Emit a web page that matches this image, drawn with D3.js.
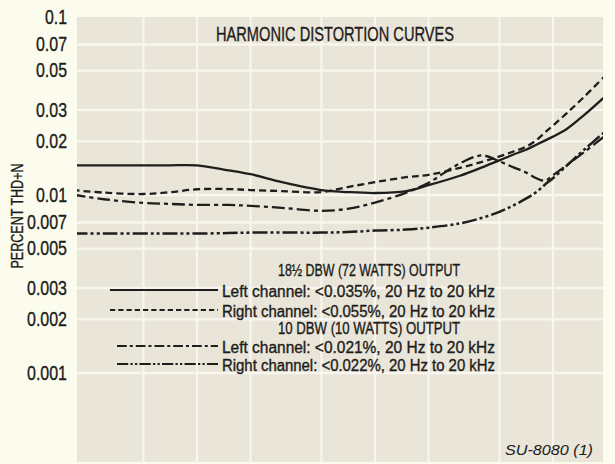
<!DOCTYPE html>
<html>
<head>
<meta charset="utf-8">
<script src="https://cdn.jsdelivr.net/npm/d3@7/dist/d3.min.js"></script>
<style>
  html, body { margin: 0; padding: 0; background: #fbfbee; }
  svg { display: block; }
  .narrow { font-family: "Liberation Sans", Arial, sans-serif; fill: #1c1c1a; stroke: #1c1c1a; stroke-width: 0.35px; }
</style>
</head>
<body>
<svg id="chart" width="615" height="464"></svg>
<script>
// Frequency points (Hz) shared by every curve
const freqHz = [20, 30, 50, 70, 100, 150, 200, 300, 500, 700, 1000, 1500, 2000,
                3000, 4000, 5000, 6000, 7000, 8000, 9000, 10000, 12000, 15000, 20000];

// THD+N in percent, 18½ dBW (72 W) output
const left72W = [0.01468, 0.01468, 0.01468, 0.01468, 0.01468, 0.01377, 0.01308, 0.01181,
                 0.01066, 0.01039, 0.01026, 0.01052, 0.01136, 0.01283, 0.01430, 0.01565,
                 0.01689, 0.01790, 0.01909, 0.02021, 0.02128, 0.02357, 0.02818, 0.03639];
const right72W = [0.01066, 0.01031, 0.01013, 0.01036, 0.01077, 0.01080, 0.01066, 0.01052,
                  0.01039, 0.01108, 0.01181, 0.01259, 0.01298, 0.01421, 0.01537, 0.01647,
                  0.01756, 0.01859, 0.02021, 0.02242, 0.02458, 0.02891, 0.03572, 0.04760];

// THD+N in percent, 10 dBW (10 W) output
const left10W = [0.01006, 0.009465, 0.009027, 0.008913, 0.008800, 0.008800, 0.008689, 0.008470,
                 0.008152, 0.008359, 0.009062, 0.01032, 0.01173, 0.01506, 0.01668, 0.01545,
                 0.01430, 0.01342, 0.01246, 0.01204, 0.01292, 0.01476, 0.01745, 0.02183];
const right10W = [0.006072, 0.006072, 0.006072, 0.006072, 0.006072, 0.006111, 0.006150, 0.006150,
                  0.006150, 0.006190, 0.006310, 0.006391, 0.006556, 0.006927, 0.007450, 0.008045,
                  0.008745, 0.009501, 0.01032, 0.01143, 0.01243, 0.01468, 0.01801, 0.02311];

// Axis ticks and grid
const yTickValues = [0.1, 0.07, 0.05, 0.03, 0.02, 0.01, 0.007, 0.005, 0.003, 0.002, 0.001];
const yTickLabels = ["0.1", "0.07", "0.05", "0.03", "0.02", "0.01", "0.007", "0.005", "0.003", "0.002", "0.001"];
const xGridHz = [50, 100, 200, 500, 1000, 2000, 5000, 10000];

// Legend text
const titleText = "HARMONIC DISTORTION CURVES";
const legendRows = [
  { kind: "head", text: "18½ DBW (72 WATTS) OUTPUT" },
  { kind: "item", series: "left72W",  text: "Left channel: <0.035%, 20 Hz to 20 kHz" },
  { kind: "item", series: "right72W", text: "Right channel: <0.055%, 20 Hz to 20 kHz" },
  { kind: "head", text: "10 DBW (10 WATTS) OUTPUT" },
  { kind: "item", series: "left10W",  text: "Left channel: <0.021%, 20 Hz to 20 kHz" },
  { kind: "item", series: "right10W", text: "Right channel: <0.022%, 20 Hz to 20 kHz" }
];
const figureTag = "SU-8080  (1)";

const seriesData = { left72W, right72W, left10W, right10W };
const seriesStyle = {
  left72W:  { dash: null,              width: 2.3 },
  right72W: { dash: "7,4",             width: 2.3 },
  left10W:  { dash: "13,4,4,4",        width: 2.3 },
  right10W: { dash: "15,3,3,3,3,3",    width: 2.5 }
};

const svg = d3.select("#chart");
const panel = { left: 77, right: 603, top: 17, bottom: 462 };

const x = d3.scaleLog().domain([100, 10000]).range([197, 553]);
const y = d3.scaleLog().domain([0.1, 0.001]).range([17, 373]);

// Plot background
svg.append("rect")
  .attr("x", panel.left).attr("y", panel.top)
  .attr("width", panel.right - panel.left).attr("height", panel.bottom - panel.top)
  .attr("fill", "#eae5d9");

// Grid lines
const grid = svg.append("g").attr("stroke", "#f8f6ee");
grid.selectAll("line.v").data(xGridHz).join("line")
  .attr("x1", d => x(d)).attr("x2", d => x(d))
  .attr("y1", panel.top).attr("y2", panel.bottom)
  .attr("stroke-width", 2.2);
grid.selectAll("line.h").data(yTickValues.slice(1)).join("line")
  .attr("x1", panel.left).attr("x2", panel.right)
  .attr("y1", d => y(d)).attr("y2", d => y(d))
  .attr("stroke-width", 2.4);

// Y axis labels (condensed by fitting each label to a narrow width)
const yAxis = d3.axisLeft(y)
  .tickValues(yTickValues)
  .tickFormat((d, i) => yTickLabels[i])
  .tickSize(0)
  .tickPadding(10);
const yg = svg.append("g").attr("transform", `translate(${panel.left},0)`).call(yAxis);
yg.select(".domain").remove();
yg.selectAll("text")
  .attr("class", "narrow")
  .attr("font-size", 20)
  .attr("fill", "#1c1c1a")
  .attr("textLength", function () {
    const s = d3.select(this).text();
    return (s.length - 1) * 9 + 4;
  })
  .attr("lengthAdjust", "spacingAndGlyphs");

svg.append("text")
  .attr("class", "narrow")
  .attr("transform", "translate(23,216) rotate(-90)")
  .attr("text-anchor", "middle")
  .attr("font-size", 16)
  .attr("textLength", 105)
  .attr("lengthAdjust", "spacingAndGlyphs")
  .text("PERCENT THD+N");

// Title
svg.append("text")
  .attr("class", "narrow")
  .attr("x", 216).attr("y", 41)
  .attr("font-size", 21)
  .attr("textLength", 238)
  .attr("lengthAdjust", "spacingAndGlyphs")
  .text(titleText);

// Curves
svg.append("clipPath").attr("id", "plotClip")
  .append("rect")
  .attr("x", panel.left).attr("y", panel.top)
  .attr("width", panel.right - panel.left).attr("height", panel.bottom - panel.top);

const line = d3.line()
  .x(d => x(d[0]))
  .y(d => y(d[1]))
  .curve(d3.curveCatmullRom.alpha(0.5));

const curves = svg.append("g").attr("clip-path", "url(#plotClip)");
Object.keys(seriesData).forEach(key => {
  const pts = freqHz.map((f, i) => [f, seriesData[key][i]]);
  curves.append("path")
    .datum(pts)
    .attr("d", line)
    .attr("fill", "none")
    .attr("stroke", "#1e1e1c")
    .attr("stroke-width", seriesStyle[key].width)
    .attr("stroke-dasharray", seriesStyle[key].dash)
    .attr("stroke-linejoin", "round");
});

// Legend
const rowY = [270, 291, 311, 328, 347, 365];
const legend = svg.append("g");
legendRows.forEach((row, i) => {
  if (row.kind === "head") {
    legend.append("text")
      .attr("class", "narrow")
      .attr("x", 278).attr("y", rowY[i] + 6)
      .attr("font-size", 16)
      .attr("textLength", 182)
      .attr("lengthAdjust", "spacingAndGlyphs")
      .text(row.text);
  } else {
    const st = seriesStyle[row.series];
    legend.append("line")
      .attr("x1", row.series.endsWith("10W") ? 117 : 110).attr("x2", 218)
      .attr("y1", rowY[i] - 1).attr("y2", rowY[i] - 1)
      .attr("stroke", "#1e1e1c")
      .attr("stroke-width", 1.9)
      .attr("stroke-dasharray", st.dash ? st.dash.split(",").map(v => v * 0.75).join(",") : null);
    legend.append("text")
      .attr("class", "narrow")
      .attr("x", 222).attr("y", rowY[i] + 6)
      .attr("font-size", 16)
      .attr("textLength", 273)
      .attr("lengthAdjust", "spacingAndGlyphs")
      .text(row.text);
  }
});

// Figure tag
svg.append("text")
  .attr("x", 505).attr("y", 455)
  .attr("font-family", "Liberation Sans, Arial, sans-serif")
  .attr("font-style", "italic")
  .attr("font-size", 15)
  .attr("fill", "#1c1c1a")
  .attr("textLength", 88)
  .attr("lengthAdjust", "spacingAndGlyphs")
  .text(figureTag);
</script>
</body>
</html>
